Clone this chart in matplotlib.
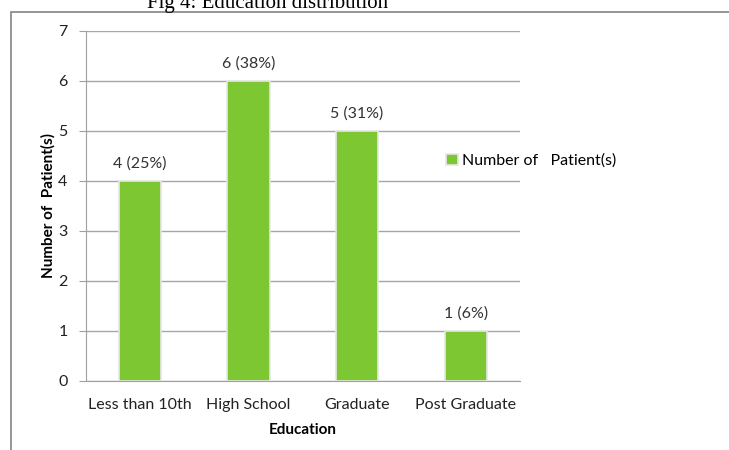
import matplotlib.pyplot as plt
from matplotlib.patches import Rectangle

# Data
categories = ['Less than 10th', 'High School', 'Graduate', 'Post Graduate']
patients = [4, 6, 5, 1]
bar_labels = ['4 (25%)', '6 (38%)', '5 (31%)', '1 (6%)']

plt.rcParams['font.family'] = ['Lato', 'DejaVu Sans']

fig = plt.figure(figsize=(7.29, 4.5), dpi=100)
ax = fig.add_axes([85.5 / 729, 1 - 381 / 450, (520 - 85.5) / 729, 350 / 450])

# outer frame of the chart box (runs off the right and bottom edges)
fig.patches.append(Rectangle((11 / 729, -0.1), 1.2, 1 - 12 / 450 + 0.1,
                             transform=fig.transFigure, fill=False,
                             edgecolor='#8c8c8c', linewidth=1.3))

# title, partly cut off at the top
fig.text(268 / 729, 1 - 8 / 450, 'Fig 4: Education distribution', ha='center', va='baseline',
         fontsize=15, family='Liberation Serif', color='black')

x = range(len(categories))
bars = ax.bar(x, patients, width=0.39, color='#7dc832', edgecolor='#e6e6e6',
              linewidth=1.2, label='Number of   Patient(s)', zorder=3)

for b, txt in zip(bars, bar_labels):
    ax.text(b.get_x() + b.get_width() / 2, b.get_height() + 0.2, txt,
            ha='center', va='bottom', fontsize=11.5, color='#333333')

ax.set_xlim(-0.5, 3.5)
ax.set_ylim(0, 7)
ax.set_yticks(range(0, 8))
ax.set_xticks(list(x))
ax.set_xticklabels(categories, fontsize=11.5, color='#222222')
ax.tick_params(axis='y', labelsize=11.5, colors='#222222', length=5, color='#a0a0a0', pad=8)
ax.tick_params(axis='x', length=0, pad=12)
for lab in ax.get_yticklabels():
    lab.set_color('#222222')

ax.grid(axis='y', color='#a6a6a6', linewidth=1, zorder=0)
for s in ['top', 'right']:
    ax.spines[s].set_visible(False)
ax.spines['left'].set_color('#a0a0a0')
ax.spines['bottom'].set_color('#a0a0a0')

ax.set_xlabel('Education', fontsize=11, fontweight='bold', labelpad=8)
ax.set_ylabel('Number of  Patient(s)', fontsize=11, fontweight='bold', labelpad=2)

ax.legend(loc='center left', bbox_to_anchor=(432 / 729, 1 - 161 / 450),
          bbox_transform=fig.transFigure, frameon=False, fontsize=11.5,
          handlelength=0.7, handleheight=0.7, handletextpad=0.3)

fig.savefig('out.png', dpi=100)
